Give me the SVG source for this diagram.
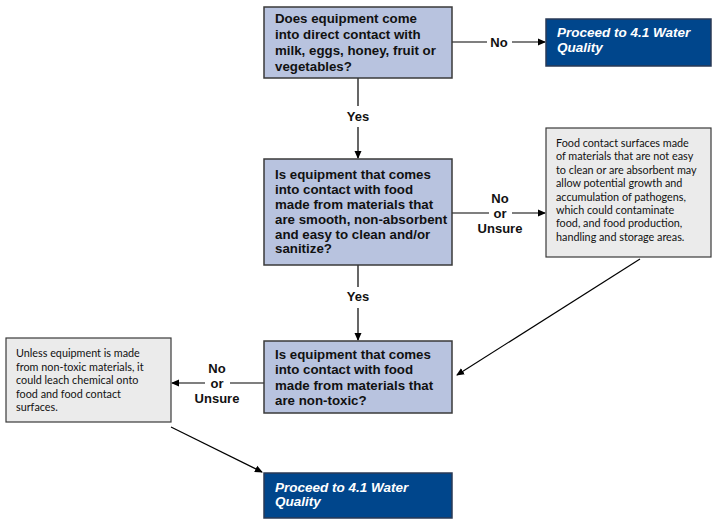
<svg xmlns="http://www.w3.org/2000/svg" width="720" height="524" viewBox="0 0 720 524">
<defs>
<marker id="ah" markerWidth="8" markerHeight="8" refX="7" refY="4" orient="auto" markerUnits="userSpaceOnUse">
<path d="M0,0.5 L8,4 L0,7.5 z" fill="#000"/>
</marker>
<style>
.q{fill:#B8C3DF;stroke:#3a3a3a;stroke-width:1.5}
.p{fill:#00468C;stroke:#2a3a55;stroke-width:1.5}
.g{fill:#EBEBEB;stroke:#3a3a3a;stroke-width:1.2}
.qt{font-family:"Liberation Sans",Arial,sans-serif;font-weight:bold;font-size:13.3px;fill:#111}
.pt{font-family:"Liberation Sans",Arial,sans-serif;font-weight:bold;font-style:italic;font-size:13.5px;fill:#fff}
.gt{font-family:Lato,"Open Sans",sans-serif;font-size:10.8px;fill:#111}
.lb{font-family:"Liberation Sans",Arial,sans-serif;font-weight:bold;font-size:13px;fill:#111;text-anchor:middle}
.c{stroke:#000;stroke-width:1.2;fill:none}
</style>
</defs>
<rect width="720" height="524" fill="#fff"/>
<g id="connectors">
<line class="c" x1="452" y1="42" x2="487" y2="42"/>
<line class="c" x1="512" y1="42" x2="545" y2="42" marker-end="url(#ah)"/>
<text class="lb" x="499" y="47">No</text>
<line class="c" x1="358" y1="78" x2="358" y2="106"/>
<line class="c" x1="358" y1="127" x2="358" y2="158" marker-end="url(#ah)"/>
<text class="lb" x="358" y="121">Yes</text>
<line class="c" x1="452" y1="213" x2="489" y2="213"/>
<line class="c" x1="512" y1="213" x2="545" y2="213" marker-end="url(#ah)"/>
<text class="lb" x="500" y="203">No</text>
<text class="lb" x="500" y="218">or</text>
<text class="lb" x="500" y="233">Unsure</text>
<line class="c" x1="358" y1="265" x2="358" y2="287"/>
<line class="c" x1="358" y1="308" x2="358" y2="340" marker-end="url(#ah)"/>
<text class="lb" x="358" y="301">Yes</text>
<line class="c" x1="640" y1="259" x2="457" y2="375" marker-end="url(#ah)"/>
<line class="c" x1="264" y1="383" x2="230" y2="383"/>
<line class="c" x1="205" y1="383" x2="172" y2="383" marker-end="url(#ah)"/>
<text class="lb" x="217" y="373">No</text>
<text class="lb" x="217" y="388">or</text>
<text class="lb" x="217" y="403">Unsure</text>
<line class="c" x1="171" y1="427" x2="262" y2="472" marker-end="url(#ah)"/>
</g>
<g id="q1">
<rect class="q" x="264" y="7" width="188" height="71"/>
<text class="qt" x="275" y="23">Does equipment come</text>
<text class="qt" x="275" y="39">into direct contact with</text>
<text class="qt" x="275" y="55">milk, eggs, honey, fruit or</text>
<text class="qt" x="275" y="71">vegetables?</text>
</g>
<g id="p1">
<rect class="p" x="546" y="19" width="165" height="47"/>
<text class="pt" x="557" y="37">Proceed to 4.1 Water</text>
<text class="pt" x="557" y="52">Quality</text>
</g>
<g id="q2">
<rect class="q" x="264" y="159" width="188" height="106"/>
<text class="qt" x="275" y="179">Is equipment that comes</text>
<text class="qt" x="275" y="194">into contact with food</text>
<text class="qt" x="275" y="209">made from materials that</text>
<text class="qt" x="275" y="224">are smooth, non-absorbent</text>
<text class="qt" x="275" y="239">and easy to clean and/or</text>
<text class="qt" x="275" y="253">sanitize?</text>
</g>
<g id="n2">
<rect class="g" x="546" y="128" width="165" height="129"/>
<text class="gt" x="556" y="147">Food contact surfaces made</text>
<text class="gt" x="556" y="160.4">of materials that are not easy</text>
<text class="gt" x="556" y="173.8">to clean or are absorbent may</text>
<text class="gt" x="556" y="187.2">allow potential growth and</text>
<text class="gt" x="556" y="200.6">accumulation of pathogens,</text>
<text class="gt" x="556" y="214">which could contaminate</text>
<text class="gt" x="556" y="227.4">food, and food production,</text>
<text class="gt" x="556" y="240.8">handling and storage areas.</text>
</g>
<g id="q3">
<rect class="q" x="264" y="341" width="188" height="72"/>
<text class="qt" x="275" y="359">Is equipment that comes</text>
<text class="qt" x="275" y="374">into contact with food</text>
<text class="qt" x="275" y="390">made from materials that</text>
<text class="qt" x="275" y="405">are non-toxic?</text>
</g>
<g id="n3">
<rect class="g" x="6" y="338" width="165" height="84"/>
<text class="gt" x="16" y="357">Unless equipment is made</text>
<text class="gt" x="16" y="370.5">from non-toxic materials, it</text>
<text class="gt" x="16" y="384">could leach chemical onto</text>
<text class="gt" x="16" y="397.5">food and food contact</text>
<text class="gt" x="16" y="411">surfaces.</text>
</g>
<g id="p2">
<rect class="p" x="264" y="473" width="188" height="45"/>
<text class="pt" x="275" y="492">Proceed to 4.1 Water</text>
<text class="pt" x="275" y="506">Quality</text>
</g>
</svg>
